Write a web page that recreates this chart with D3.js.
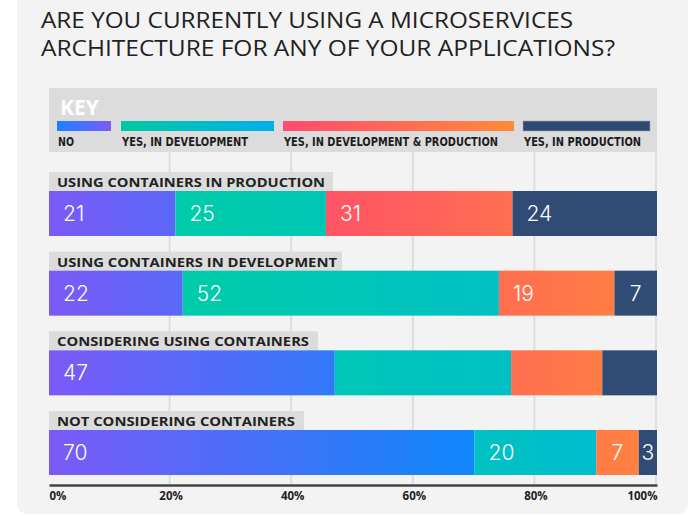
<!DOCTYPE html>
<html><head><meta charset="utf-8">
<script src="https://cdn.jsdelivr.net/npm/d3@7"></script>
<style>
html,body{margin:0;padding:0;background:#fff;}
svg{display:block;}
</style></head>
<body>
<svg id="chart" width="700" height="516"></svg>
<script>
// ---- data ----
const titleLines = ["ARE YOU CURRENTLY USING A MICROSERVICES", "ARCHITECTURE FOR ANY OF YOUR APPLICATIONS?"];
const seriesNames = ["NO", "YES, IN DEVELOPMENT", "YES, IN DEVELOPMENT & PRODUCTION", "YES, IN PRODUCTION"];
const categories = ["USING CONTAINERS IN PRODUCTION", "USING CONTAINERS IN DEVELOPMENT", "CONSIDERING USING CONTAINERS", "NOT CONSIDERING CONTAINERS"];
const noValues      = [21, 22, 47, 70];
const devValues     = [25, 52, 29, 20];
const devProdValues = [31, 19, 15, 7];
const prodValues    = [24, 7, 9, 3];
const showValueLabels = [true, true, false, true];   // row 3 only labels its first segment
const tickValues = [0, 20, 40, 60, 80, 100];
const tickLabels = ["0%", "20%", "40%", "60%", "80%", "100%"];

const seriesValues = [noValues, devValues, devProdValues, prodValues];

const svg = d3.select("#chart");
const defs = svg.append("defs");

// panel
svg.append("rect").attr("x", 17).attr("y", -20).attr("width", 671).attr("height", 534)
  .attr("rx", 10).attr("fill", "#f3f3f3");

// title
svg.append("g").selectAll("text").data(titleLines).join("text")
  .attr("x", 41).attr("y", (d, i) => 28 + i * 28)
  .attr("textLength", (d, i) => i === 0 ? 532 : 574).attr("lengthAdjust", "spacingAndGlyphs")
  .attr("font-family", "'Open Sans', 'Noto Sans', sans-serif").attr("font-size", 21)
  .attr("font-weight", 400).attr("fill", "#222").text(d => d);

const x = d3.scaleLinear().domain([0, 100]).range([49, 657]);

// gradients for bars (user space, along chart width)
const barGrad = [
  {id: "gNo", stops: [[x(0), "#7b5af6"], [x(72), "#0b89fb"]]},
  {id: "gDev", stops: [[x(20), "#00cca8"], [x(95), "#00bcd0"]]},
  {id: "gDevProd", stops: [[x(40), "#ff4f6a"], [x(100), "#ff843e"]]},
  {id: "gProd", stops: [[x(0), "#314c74"], [x(100), "#314c74"]]}
];
barGrad.forEach(g => {
  const lg = defs.append("linearGradient").attr("id", g.id).attr("gradientUnits", "userSpaceOnUse")
    .attr("x1", g.stops[0][0]).attr("x2", g.stops[1][0]).attr("y1", 0).attr("y2", 0);
  lg.append("stop").attr("offset", 0).attr("stop-color", g.stops[0][1]);
  lg.append("stop").attr("offset", 1).attr("stop-color", g.stops[1][1]);
});
const keyGrad = [
  {id: "kNo", c: ["#1a82ff", "#7b5cf7"]},
  {id: "kDev", c: ["#00c9a2", "#00b0ea"]},
  {id: "kDevProd", c: ["#ff4b70", "#ff8a38"]},
  {id: "kProd", c: ["#2f4a70", "#2f4a70"]}
];
keyGrad.forEach(g => {
  const lg = defs.append("linearGradient").attr("id", g.id).attr("x1", 0).attr("x2", 1).attr("y1", 0).attr("y2", 0);
  lg.append("stop").attr("offset", 0).attr("stop-color", g.c[0]);
  lg.append("stop").attr("offset", 1).attr("stop-color", g.c[1]);
});

// gridlines
svg.append("g").selectAll("line").data(tickValues.slice(1)).join("line")
  .attr("x1", d => x(d) - 1).attr("x2", d => x(d) - 1).attr("y1", 152).attr("y2", 484)
  .attr("stroke", "#dedede").attr("stroke-width", 2);

// key
const key = svg.append("g");
key.append("rect").attr("x", x(0)).attr("y", 88).attr("width", x(100) - x(0)).attr("height", 64).attr("fill", "#dcdcdd");
key.append("text").attr("x", 60).attr("y", 115).attr("fill", "#fff")
  .attr("font-family", "'Open Sans', sans-serif").attr("font-weight", 700).attr("font-size", 21).text("KEY");
const keySw = [[57, 111], [121, 274], [283, 514], [523, 650]];
const keyLabelW = [16, 126, 214, 117];
seriesNames.forEach((s, i) => {
  key.append("rect").attr("x", keySw[i][0]).attr("y", 121).attr("width", keySw[i][1] - keySw[i][0]).attr("height", 10)
    .attr("fill", `url(#${keyGrad[i].id})`).attr("stroke", i === 3 ? "#9aa6b8" : "none").attr("stroke-width", 0.6);
  key.append("text").attr("x", keySw[i][0] + 1).attr("y", 146)
    .attr("textLength", keyLabelW[i]).attr("lengthAdjust", "spacingAndGlyphs")
    .attr("font-family", "'DejaVu Sans Condensed', 'Liberation Sans Narrow', sans-serif")
    .attr("font-stretch", "condensed").attr("font-weight", 700).attr("font-size", 12.5)
    .attr("fill", "#1c1c1c").text(s);
});

// rows
const rowTop = d3.scalePoint().domain(categories).range([172, 411]);
const labelW = [268, 280, 252, 238];
const bandW = [284, 293, 269, 255];
const barH = 45, bandH = 19;
const labelFills = ["gNo", "gDev", "gDevProd", "gProd"];

categories.forEach((cat, r) => {
  const top = rowTop(cat);
  const g = svg.append("g");
  g.append("rect").attr("x", x(0)).attr("y", top).attr("width", bandW[r]).attr("height", bandH).attr("fill", "#dcdcdd");
  g.append("text").attr("x", 57).attr("y", top + 15).attr("textLength", labelW[r]).attr("lengthAdjust", "spacingAndGlyphs")
    .attr("font-family", "'Open Sans', 'DejaVu Sans', sans-serif").attr("font-weight", 700).attr("font-size", 13)
    .attr("fill", "#222").text(cat);
  const vals = seriesValues.map(s => s[r]);
  const total = d3.sum(vals);
  let cum = 0;
  const segs = vals.map((v, i) => { const s = {v, i, x0: cum / total * 100, x1: (cum + v) / total * 100}; cum += v; return s; });
  const by = top + bandH;
  g.selectAll("rect.seg").data(segs).join("rect").attr("class", "seg")
    .attr("x", d => x(d.x0)).attr("y", by).attr("width", d => x(d.x1) - x(d.x0)).attr("height", barH)
    .attr("fill", d => `url(#${labelFills[d.i]})`);
  g.selectAll("text.val").data(segs.filter(d => showValueLabels[r] || d.i === 0)).join("text").attr("class", "val")
    .attr("x", d => { const w = x(d.x1) - x(d.x0); return w < 45 ? (x(d.x0) + x(d.x1)) / 2 : x(d.x0) + 14; })
    .attr("text-anchor", d => (x(d.x1) - x(d.x0)) < 45 ? "middle" : "start")
    .attr("y", by + barH / 2 + 7.5)
    .attr("font-family", "'Inter', 'Lato', sans-serif").attr("font-weight", 300).attr("font-size", 21)
    .attr("fill", "#fff").text(d => d.v);
});

// axis
const axis = d3.axisBottom(x).tickValues(tickValues).tickSize(0).tickPadding(7)
  .tickFormat((d, i) => tickLabels[i]);
const ag = svg.append("g").attr("transform", "translate(0,485)").call(axis);
ag.select(".domain").attr("stroke", "#444").attr("stroke-width", 2.5);
ag.selectAll(".tick text").attr("font-family", "'Open Sans', sans-serif").attr("font-weight", 700)
  .attr("font-size", 11.5).attr("fill", "#222")
  .attr("text-anchor", d => d === 0 ? "start" : d === 100 ? "end" : "middle");
</script>
</body></html>
